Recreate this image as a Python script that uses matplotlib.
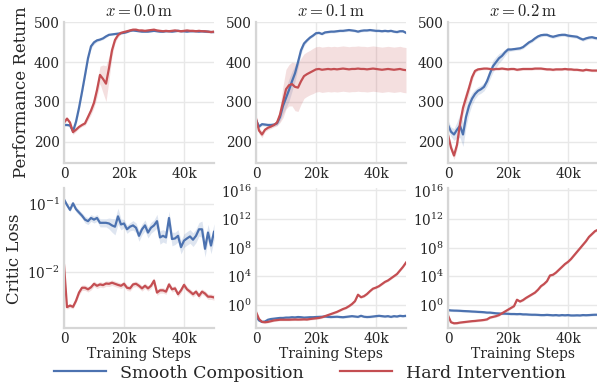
import numpy as np
import matplotlib
matplotlib.use("Agg")
import matplotlib.pyplot as plt
from matplotlib.ticker import FixedLocator, NullLocator, FuncFormatter, LogFormatterMathtext

# training steps (evaluated every 1k)
steps = np.arange(0, 51) * 1000

titles = ["$x = 0.0\\,\\mathrm{m}$", "$x = 0.1\\,\\mathrm{m}$", "$x = 0.2\\,\\mathrm{m}$"]
labels = ["Smooth Composition", "Hard Intervention"]

# ---- performance return (top row) ----
ret_smooth_00 = [242, 242, 241, 226, 250, 285, 325, 367, 410, 440, 450, 455, 457, 460, 465, 469, 470,
                 471, 472, 473, 474, 476, 479, 480, 479, 478, 477, 477, 477, 478, 479, 478, 477, 477,
                 478, 478, 477, 478, 479, 478, 478, 477, 478, 478, 478, 477, 478, 477, 477, 476, 476]
ret_smooth_00_sd = [3, 3, 4, 6, 8, 8, 8, 8, 7, 6, 5, 4, 3, 3, 3, 2, 2, 2, 2, 2, 2, 2, 2, 2, 2, 2,
                    2, 2, 2, 2, 2, 2, 2, 2, 2, 2, 2, 2, 2, 2, 2, 2, 2, 2, 2, 2, 2, 2, 2, 2, 2]
ret_hard_00 = [248, 258, 248, 224, 230, 237, 242, 246, 262, 278, 298, 330, 368, 358, 346, 385, 430,
               456, 468, 474, 476, 478, 480, 482, 482, 480, 480, 479, 480, 481, 482, 480, 479, 478,
               479, 478, 479, 480, 479, 478, 479, 480, 479, 479, 478, 479, 478, 478, 477, 476, 477]
ret_hard_00_sd = [4, 4, 5, 6, 5, 4, 4, 5, 8, 10, 12, 18, 22, 35, 45, 30, 15, 8, 5, 3, 3, 3, 3, 3, 3, 3,
                  3, 3, 3, 3, 3, 3, 3, 3, 3, 3, 3, 3, 3, 3, 3, 3, 3, 3, 3, 3, 3, 3, 3, 3, 3]

ret_smooth_01 = [255, 238, 244, 243, 242, 242, 243, 246, 262, 290, 310, 330, 352, 372, 400, 430, 447,
                 455, 462, 467, 473, 474, 471, 475, 476, 477, 477, 478, 479, 479, 480, 481, 480, 479,
                 477, 479, 480, 480, 481, 480, 479, 479, 478, 479, 478, 479, 477, 476, 478, 478, 474]
ret_smooth_01_sd = [5, 4, 4, 4, 4, 4, 4, 5, 10, 20, 25, 28, 25, 20, 15, 10, 6, 4, 3, 3, 3, 3, 3, 3, 3, 3,
                    3, 3, 3, 3, 3, 3, 3, 3, 3, 3, 3, 3, 3, 3, 3, 3, 3, 3, 3, 3, 3, 3, 3, 3, 3]
ret_hard_01 = [258, 228, 218, 230, 235, 238, 242, 248, 268, 300, 332, 342, 345, 338, 336, 352, 365,
               370, 374, 378, 382, 383, 381, 382, 383, 382, 383, 382, 383, 384, 383, 382, 383, 383,
               384, 383, 383, 382, 383, 384, 383, 382, 381, 382, 383, 382, 381, 382, 383, 381, 380]
ret_hard_01_sd = [10, 8, 8, 5, 5, 5, 5, 8, 20, 40, 50, 52, 55, 60, 60, 58, 56, 56, 56, 57, 57, 57, 57, 57,
                  57, 57, 57, 57, 57, 57, 57, 57, 57, 57, 57, 57, 57, 57, 57, 57, 57, 57, 57, 57, 57,
                  57, 57, 57, 57, 57, 57]

ret_smooth_02 = [242, 225, 218, 230, 240, 218, 262, 290, 308, 320, 328, 332, 338, 352, 372, 390, 400,
                 410, 416, 425, 432, 432, 433, 434, 435, 438, 444, 450, 454, 460, 465, 468, 469, 469,
                 466, 464, 466, 468, 469, 469, 467, 466, 465, 464, 460, 457, 460, 462, 463, 461, 460]
ret_smooth_02_sd = [12, 12, 15, 20, 30, 30, 25, 20, 15, 12, 10, 10, 10, 12, 14, 15, 14, 12, 10, 8, 6, 4,
                    4, 4, 4, 4, 4, 4, 4, 4, 4, 4, 4, 4, 4, 4, 4, 4, 4, 4, 4, 4, 4, 4, 4, 4, 4, 4, 4, 4, 4]
ret_hard_02 = [217, 185, 165, 192, 245, 285, 310, 335, 362, 378, 382, 383, 384, 384, 383, 382, 383,
               383, 384, 383, 382, 383, 383, 381, 382, 383, 383, 383, 383, 384, 384, 384, 383, 382,
               382, 381, 382, 382, 382, 383, 382, 382, 381, 381, 380, 379, 381, 380, 379, 379, 379]
ret_hard_02_sd = [8, 10, 10, 12, 15, 18, 18, 15, 10, 5, 3, 3, 3, 3, 3, 3, 3, 3, 3, 3, 3, 3, 3, 3, 3, 3,
                  3, 3, 3, 3, 3, 3, 3, 3, 3, 3, 3, 3, 3, 3, 3, 3, 3, 3, 3, 3, 3, 3, 3, 3, 3]

# ---- critic loss (bottom row), stored as log10 values ----
loss_smooth_00 = [-0.933, -1.014, -1.086, -0.99, -1.076, -1.124, -1.171, -1.229, -1.252, -1.205, -1.229,
                  -1.205, -1.276, -1.276, -1.276, -1.286, -1.314, -1.333, -1.181, -1.3, -1.286, -1.371,
                  -1.333, -1.314, -1.348, -1.467, -1.371, -1.314, -1.419, -1.348, -1.314, -1.252, -1.49,
                  -1.467, -1.49, -1.205, -1.514, -1.505, -1.467, -1.633, -1.538, -1.505, -1.476, -1.524,
                  -1.467, -1.371, -1.371, -1.657, -1.419, -1.61, -1.409]
loss_smooth_00_sd = [0.03, 0.03, 0.03, 0.03, 0.04, 0.04, 0.04, 0.05, 0.05, 0.05, 0.05, 0.05, 0.06, 0.06,
                     0.06, 0.08, 0.1, 0.12, 0.12, 0.08, 0.06, 0.06, 0.06, 0.07, 0.07, 0.08, 0.08, 0.08,
                     0.08, 0.08, 0.08, 0.1, 0.1, 0.09, 0.09, 0.1, 0.1, 0.09, 0.09, 0.1, 0.1, 0.1, 0.1,
                     0.1, 0.1, 0.1, 0.12, 0.12, 0.12, 0.12, 0.12]
loss_hard_00 = [-1.895, -2.514, -2.49, -2.509, -2.42, -2.3, -2.229, -2.229, -2.252, -2.222, -2.171,
                -2.2, -2.18, -2.19, -2.167, -2.171, -2.155, -2.171, -2.187, -2.2, -2.171, -2.229, -2.238,
                -2.18, -2.171, -2.2, -2.238, -2.2, -2.238, -2.2, -2.124, -2.3, -2.267, -2.267, -2.286,
                -2.18, -2.252, -2.238, -2.324, -2.267, -2.187, -2.252, -2.286, -2.324, -2.286, -2.348,
                -2.286, -2.314, -2.36, -2.36, -2.371]
loss_hard_00_sd = [0.04, 0.03, 0.03, 0.03, 0.03, 0.04, 0.04, 0.04, 0.04, 0.04, 0.04, 0.04, 0.04, 0.04,
                   0.04, 0.04, 0.04, 0.04, 0.04, 0.04, 0.04, 0.04, 0.04, 0.04, 0.04, 0.04, 0.04, 0.04,
                   0.04, 0.04, 0.04, 0.04, 0.04, 0.04, 0.04, 0.04, 0.04, 0.04, 0.04, 0.04, 0.04, 0.04,
                   0.04, 0.04, 0.04, 0.04, 0.04, 0.04, 0.04, 0.04, 0.04]

loss_smooth_01 = [-1.6, -2.2, -2.4, -2.35, -2.1, -2.0, -1.95, -1.9, -1.85, -1.85, -1.8, -1.8, -1.75,
                  -1.78, -1.72, -1.75, -1.8, -1.78, -1.75, -1.75, -1.72, -1.7, -1.68, -1.65, -1.7, -1.72,
                  -1.7, -1.68, -1.72, -1.75, -1.7, -1.65, -1.6, -1.65, -1.7, -1.55, -1.68, -1.72, -1.7,
                  -1.65, -1.6, -1.55, -1.6, -1.65, -1.6, -1.7, -1.6, -1.65, -1.55, -1.6, -1.55]
loss_hard_01 = [-1.0, -2.0, -2.4, -2.45, -2.4, -2.3, -2.2, -2.15, -2.1, -2.1, -2.1, -2.1, -2.08, -2.07,
                -2.08, -2.07, -2.05, -2.07, -2.0, -1.95, -1.9, -1.85, -1.75, -1.6, -1.45, -1.3, -1.15,
                -1.0, -0.8, -0.6, -0.45, -0.2, 0.1, 0.5, 1.4, 1.05, 1.2, 1.5, 1.9, 2.25, 2.4, 2.6, 2.9,
                3.2, 3.4, 3.7, 4.0, 4.3, 4.8, 5.3, 5.9]

loss_smooth_02 = [-0.75, -0.8, -0.82, -0.83, -0.85, -0.88, -0.9, -0.92, -0.95, -0.97, -1.0, -1.02, -1.05,
                  -1.1, -1.1, -1.15, -1.2, -1.22, -1.25, -1.25, -1.27, -1.3, -1.3, -1.32, -1.3, -1.35,
                  -1.35, -1.38, -1.4, -1.4, -1.42, -1.45, -1.45, -1.42, -1.45, -1.48, -1.45, -1.5, -1.45,
                  -1.48, -1.45, -1.5, -1.5, -1.48, -1.5, -1.45, -1.47, -1.45, -1.42, -1.4, -1.4]
loss_hard_02 = [-1.5, -2.45, -2.6, -2.58, -2.5, -2.45, -2.4, -2.35, -2.3, -2.27, -2.22, -2.18, -2.13,
                -2.05, -1.8, -1.7, -1.6, -1.45, -1.2, -0.95, -0.7, -0.45, -0.2, 0.7, 0.45, 0.65, 0.95,
                1.2, 1.45, 1.7, 2.1, 2.6, 2.9, 3.3, 4.1, 4.2, 4.5, 4.9, 5.3, 5.7, 6.0, 6.4, 6.9, 7.4,
                7.9, 8.4, 8.9, 9.5, 9.9, 10.3, 10.5]
loss_band_thin = 0.15  # decades, barely visible band on the exploding panels

blue = "#4C72B0"
red = "#C44E52"

plt.rcParams["font.family"] = "DejaVu Serif"
plt.rcParams["mathtext.fontset"] = "dejavuserif"
plt.rcParams["axes.edgecolor"] = "#d6d6d6"
plt.rcParams["axes.linewidth"] = 1.6
plt.rcParams["grid.color"] = "#e8e8e8"
plt.rcParams["grid.linewidth"] = 1.0
plt.rcParams["xtick.color"] = "#262626"
plt.rcParams["ytick.color"] = "#262626"
plt.rcParams["text.color"] = "#262626"
plt.rcParams["axes.labelcolor"] = "#262626"

W, H = 597, 385
fig = plt.figure(figsize=(W / 100, H / 100), dpi=100)


def pos(x0, y0, w, h):
    return [x0 / W, 1 - (y0 + h) / H, w / W, h / H]


col_x = [64, 256, 448]
top_axes = [fig.add_axes(pos(x, 21.7, 150, 141)) for x in col_x]
bot_axes = [fig.add_axes(pos(x, 188.3, 150, 140)) for x in col_x]

ret_data = [(ret_smooth_00, ret_smooth_00_sd, ret_hard_00, ret_hard_00_sd),
            (ret_smooth_01, ret_smooth_01_sd, ret_hard_01, ret_hard_01_sd),
            (ret_smooth_02, ret_smooth_02_sd, ret_hard_02, ret_hard_02_sd)]
loss_data = [(loss_smooth_00, loss_smooth_00_sd, loss_hard_00, loss_hard_00_sd),
             (loss_smooth_01, loss_band_thin, loss_hard_01, loss_band_thin),
             (loss_smooth_02, loss_band_thin, loss_hard_02, loss_band_thin)]

lw = 1.6
k_fmt = FuncFormatter(lambda v, p: "0" if v == 0 else "%dk" % (v / 1000))


def style(ax):
    for s in ["top", "right"]:
        ax.spines[s].set_visible(False)
    ax.grid(True, which="major")
    ax.set_axisbelow(True)
    ax.tick_params(length=0, labelsize=9.8, pad=3)
    ax.set_xlim(0, 50000)
    ax.xaxis.set_major_locator(FixedLocator([0, 20000, 40000]))
    ax.xaxis.set_major_formatter(k_fmt)


lines = []
for i, ax in enumerate(top_axes):
    sm, sm_sd, hd, hd_sd = [np.array(a, dtype=float) for a in ret_data[i]]
    l1, = ax.plot(steps, sm, color=blue, lw=lw)
    ax.fill_between(steps, sm - sm_sd, sm + sm_sd, color=blue, alpha=0.18, lw=0)
    l2, = ax.plot(steps, hd, color=red, lw=lw)
    ax.fill_between(steps, hd - hd_sd, hd + hd_sd, color=red, alpha=0.18, lw=0)
    lines = [l1, l2]
    style(ax)
    ax.set_ylim(147, 502)
    ax.yaxis.set_major_locator(FixedLocator([200, 300, 400, 500]))
    ax.set_title(titles[i], fontsize=12, pad=4, math_fontfamily="cm")

for i, ax in enumerate(bot_axes):
    sm, sm_sd, hd, hd_sd = loss_data[i]
    sm = np.array(sm)
    hd = np.array(hd)
    sm_sd = np.array(sm_sd)
    hd_sd = np.array(hd_sd)
    ax.plot(steps, 10 ** sm, color=blue, lw=lw)
    ax.fill_between(steps, 10 ** (sm - sm_sd), 10 ** (sm + sm_sd), color=blue, alpha=0.18, lw=0)
    ax.plot(steps, 10 ** hd, color=red, lw=lw)
    ax.fill_between(steps, 10 ** (hd - hd_sd), 10 ** (hd + hd_sd), color=red, alpha=0.18, lw=0)
    ax.set_yscale("log")
    style(ax)
    if i == 0:
        ax.set_ylim(1.5e-3, 0.17)
        ax.yaxis.set_major_locator(FixedLocator([1e-2, 1e-1]))
    else:
        ax.set_ylim(10 ** -3.3, 10 ** 16.3)
        ax.yaxis.set_major_locator(FixedLocator([1e0, 1e4, 1e8, 1e12, 1e16]))
    ax.yaxis.set_major_formatter(LogFormatterMathtext())
    ax.yaxis.set_minor_locator(NullLocator())
    ax.set_xlabel("Training Steps", fontsize=10, labelpad=0.5)

top_axes[0].set_ylabel("Performance Return", fontsize=12, labelpad=3)
bot_axes[0].set_ylabel("Critic Loss", fontsize=12, labelpad=3)

fig.legend(lines, labels, loc="center", bbox_to_anchor=(310 / W, 1 - 373 / H), ncol=2,
           frameon=False, fontsize=12.5, handlelength=3.0, handletextpad=0.8, columnspacing=2.1,
           borderaxespad=0, borderpad=0)

fig.savefig("out.png", dpi=100)
